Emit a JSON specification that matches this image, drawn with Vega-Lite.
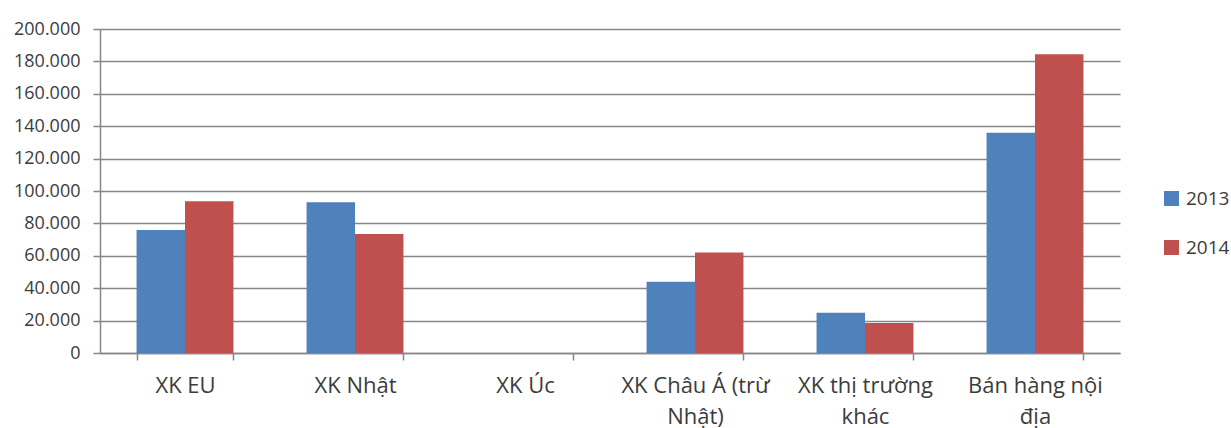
{
  "$schema": "https://vega.github.io/schema/vega-lite/v6.json",
  "autosize": "none",
  "width": 1020,
  "height": 324,
  "padding": {"left": 100, "top": 29, "right": 111, "bottom": 75},
  "background": "white",
  "data": {
    "values": [
      {"thi_truong": "XK EU", "nam": "2013", "gia_tri": 76000},
      {"thi_truong": "XK EU", "nam": "2014", "gia_tri": 93700},
      {"thi_truong": "XK Nhật", "nam": "2013", "gia_tri": 93000},
      {"thi_truong": "XK Nhật", "nam": "2014", "gia_tri": 73500},
      {"thi_truong": "XK Úc", "nam": "2013", "gia_tri": 0},
      {"thi_truong": "XK Úc", "nam": "2014", "gia_tri": 0},
      {"thi_truong": "XK Châu Á (trừ Nhật)", "nam": "2013", "gia_tri": 44000},
      {"thi_truong": "XK Châu Á (trừ Nhật)", "nam": "2014", "gia_tri": 62100},
      {"thi_truong": "XK thị trường khác", "nam": "2013", "gia_tri": 24900},
      {"thi_truong": "XK thị trường khác", "nam": "2014", "gia_tri": 18500},
      {"thi_truong": "Bán hàng nội địa", "nam": "2013", "gia_tri": 136000},
      {"thi_truong": "Bán hàng nội địa", "nam": "2014", "gia_tri": 184400}
    ]
  },
  "mark": {"type": "bar"},
  "encoding": {
    "x": {
      "field": "thi_truong",
      "type": "nominal",
      "sort": null,
      "title": null,
      "scale": {"paddingInner": 0.43, "paddingOuter": 0.215},
      "axis": {
        "labelAngle": 0,
        "tickBand": "extent",
        "tickSize": 7,
        "tickColor": "#878787",
        "tickWidth": 1.5,
        "domainColor": "#878787",
        "domainWidth": 1.5,
        "labelFont": "Open Sans",
        "labelFontSize": 22,
        "labelColor": "#3c3c3c",
        "labelPadding": 15,
        "labelLineHeight": 31,
        "labelLimit": 300,
        "labelExpr": "datum.label == 'XK Châu Á (trừ Nhật)' ? ['XK Châu Á (trừ', 'Nhật)'] : datum.label == 'XK thị trường khác' ? ['XK thị trường', 'khác'] : datum.label == 'Bán hàng nội địa' ? ['Bán hàng nội', 'địa'] : datum.label"
      }
    },
    "xOffset": {"field": "nam", "type": "nominal", "scale": {"paddingInner": 0, "paddingOuter": 0}},
    "y": {
      "field": "gia_tri",
      "type": "quantitative",
      "title": null,
      "scale": {"domain": [0, 200000], "nice": false},
      "axis": {
        "values": [0, 20000, 40000, 60000, 80000, 100000, 120000, 140000, 160000, 180000, 200000],
        "labelExpr": "replace(format(datum.value, ','), ',', '.')",
        "grid": true,
        "gridColor": "#878787",
        "gridWidth": 1.5,
        "tickSize": 7,
        "tickColor": "#878787",
        "tickWidth": 1.5,
        "domainColor": "#878787",
        "domainWidth": 1.5,
        "labelFont": "Open Sans",
        "labelFontSize": 18,
        "labelColor": "#3c3c3c",
        "labelPadding": 13
      }
    },
    "color": {
      "field": "nam",
      "type": "nominal",
      "title": null,
      "scale": {"domain": ["2013", "2014"], "range": ["#4f81bd", "#c0504d"]},
      "legend": {
        "orient": "none",
        "legendX": 1062,
        "legendY": 160,
        "symbolType": "square",
        "symbolSize": 225,
        "symbolStrokeWidth": 0,
        "labelFont": "Open Sans",
        "labelFontSize": 19,
        "labelColor": "#3c3c3c",
        "labelOffset": 5,
        "rowPadding": 29
      }
    }
  },
  "config": {
    "view": {"stroke": null},
    "axis": {"gridCap": "butt"}
  }
}
